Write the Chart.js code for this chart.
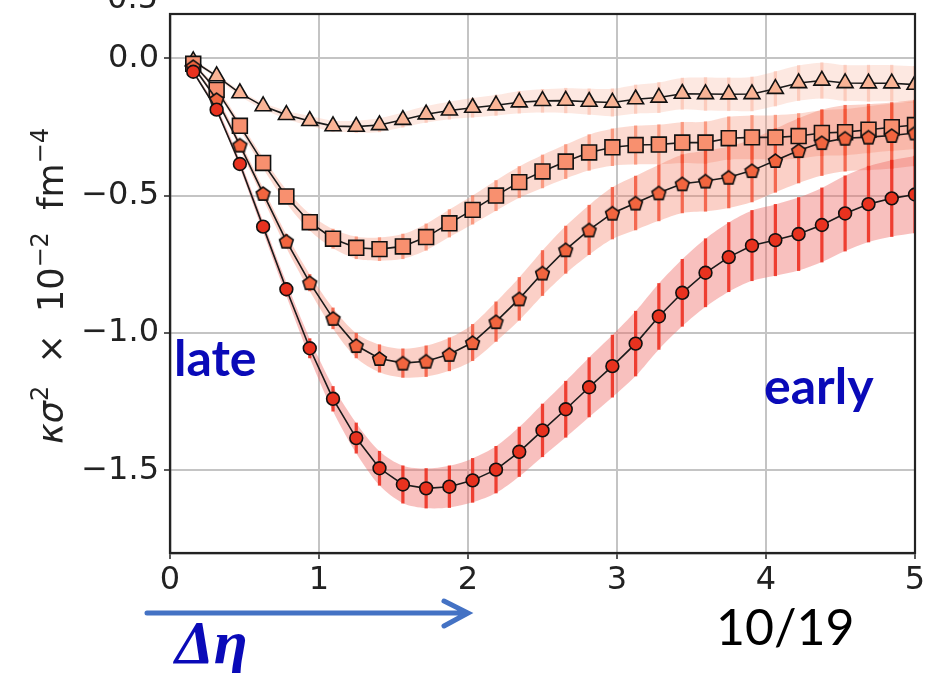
<!DOCTYPE html>
<html>
<head>
<meta charset="utf-8">
<script src="https://cdn.jsdelivr.net/npm/chart.js@4.4.1/dist/chart.umd.min.js"></script>
<style>
  html, body { margin: 0; padding: 0; background: #fff; }
  #wrap { width: 945px; height: 673px; position: relative; }
</style>
</head>
<body>
<div id="wrap"><canvas id="chart" width="945" height="673"></canvas></div>
<script>
// delta eta values (x)
const etaVals = [0.156, 0.313, 0.469, 0.625, 0.781, 0.938, 1.094, 1.25, 1.406, 1.563, 1.719, 1.875,
  2.031, 2.188, 2.344, 2.5, 2.656, 2.813, 2.969, 3.125, 3.281, 3.438, 3.594, 3.75,
  3.906, 4.063, 4.219, 4.375, 4.531, 4.688, 4.844, 5.0];

// triangles
const triVals = [-0.01, -0.065, -0.127, -0.174, -0.206, -0.228, -0.247, -0.249, -0.243, -0.224, -0.204, -0.19,
  -0.18, -0.171, -0.16, -0.155, -0.154, -0.158, -0.161, -0.149, -0.143, -0.129, -0.13, -0.131,
  -0.13, -0.111, -0.09, -0.081, -0.09, -0.091, -0.091, -0.096];
const triErr = [0.005, 0.008, 0.01, 0.012, 0.015, 0.018, 0.02, 0.022, 0.025, 0.027, 0.03, 0.032,
  0.035, 0.037, 0.04, 0.042, 0.045, 0.047, 0.05, 0.052, 0.055, 0.057, 0.06, 0.06,
  0.062, 0.063, 0.064, 0.065, 0.065, 0.066, 0.066, 0.067];

// squares
const sqVals = [-0.02, -0.115, -0.246, -0.381, -0.503, -0.597, -0.657, -0.69, -0.695, -0.685, -0.651, -0.601,
  -0.552, -0.5, -0.451, -0.412, -0.376, -0.343, -0.324, -0.316, -0.314, -0.307, -0.307, -0.291,
  -0.288, -0.288, -0.283, -0.272, -0.269, -0.26, -0.251, -0.243];
const sqErr = [0.005, 0.01, 0.015, 0.02, 0.025, 0.03, 0.035, 0.04, 0.042, 0.045, 0.048, 0.05,
  0.052, 0.055, 0.057, 0.06, 0.062, 0.065, 0.067, 0.07, 0.072, 0.074, 0.076, 0.078,
  0.08, 0.081, 0.082, 0.083, 0.084, 0.085, 0.086, 0.087];

// pentagons
const pentVals = [-0.03, -0.15, -0.316, -0.492, -0.666, -0.817, -0.947, -1.046, -1.093, -1.11, -1.103, -1.078,
  -1.035, -0.959, -0.876, -0.782, -0.697, -0.625, -0.564, -0.527, -0.49, -0.457, -0.447, -0.433,
  -0.409, -0.372, -0.336, -0.307, -0.291, -0.287, -0.281, -0.272];
const pentErr = [0.005, 0.01, 0.015, 0.02, 0.025, 0.03, 0.038, 0.045, 0.05, 0.052, 0.056, 0.06,
  0.066, 0.072, 0.078, 0.082, 0.086, 0.09, 0.094, 0.098, 0.102, 0.106, 0.11, 0.112,
  0.114, 0.116, 0.118, 0.12, 0.12, 0.12, 0.12, 0.12];

// circles
const circVals = [-0.049, -0.187, -0.385, -0.613, -0.841, -1.056, -1.24, -1.383, -1.493, -1.552, -1.566, -1.56,
  -1.537, -1.498, -1.433, -1.355, -1.278, -1.198, -1.121, -1.039, -0.94, -0.854, -0.781, -0.724,
  -0.682, -0.662, -0.64, -0.607, -0.565, -0.531, -0.51, -0.496];
const circErr = [0.005, 0.01, 0.015, 0.02, 0.025, 0.035, 0.045, 0.055, 0.062, 0.068, 0.072, 0.076,
  0.08, 0.085, 0.09, 0.096, 0.102, 0.108, 0.113, 0.118, 0.12, 0.122, 0.124, 0.126,
  0.128, 0.13, 0.133, 0.135, 0.137, 0.138, 0.139, 0.14];

const xTicks = [0, 1, 2, 3, 4, 5];
const yTicks = [0, -0.5, -1.0, -1.5];
const yTickLabels = ['0.0', '\u22120.5', '\u22121.0', '\u22121.5'];

// pentagon marker
function pentagon(size, fill) {
  const c = document.createElement('canvas');
  c.width = size; c.height = size;
  const g = c.getContext('2d');
  const r = size / 2 - 1.3;
  g.beginPath();
  for (let i = 0; i < 5; i++) {
    const a = -Math.PI / 2 + i * 2 * Math.PI / 5;
    const px = size / 2 + r * Math.cos(a), py = size / 2 + 0.8 + r * Math.sin(a);
    if (i === 0) g.moveTo(px, py); else g.lineTo(px, py);
  }
  g.closePath();
  g.fillStyle = fill; g.fill();
  g.lineWidth = 1.6; g.strokeStyle = '#111'; g.stroke();
  return c;
}

const series = [
  { vals: circVals, err: circErr, band: 'rgba(238,105,100,0.42)', bar: 'rgba(236,40,25,0.85)', fill: '#e8321f', style: 'circle', r: 6.4 },
  { vals: pentVals, err: pentErr, band: 'rgba(245,125,100,0.36)', bar: 'rgba(242,70,40,0.75)', fill: '#f2653f', style: pentagon(17, '#f2653f'), r: 8 },
  { vals: sqVals, err: sqErr, band: 'rgba(246,140,112,0.32)', bar: 'rgba(248,110,75,0.6)', fill: '#f8906f', style: 'rect', r: 10.5 },
  { vals: triVals, err: triErr, band: 'rgba(248,150,120,0.22)', bar: 'rgba(250,150,120,0.35)', fill: '#f9b496', style: 'triangle', r: 9.2 }
];

const datasets = [];
series.forEach((s, i) => {
  datasets.push({
    type: 'line', data: etaVals.map((x, j) => ({ x, y: s.vals[j] + s.err[j] })),
    borderWidth: 0, pointRadius: 0, fill: false, tension: 0.3, order: 30 + i
  });
  datasets.push({
    type: 'line', data: etaVals.map((x, j) => ({ x, y: s.vals[j] - s.err[j] })),
    borderWidth: 0, pointRadius: 0, fill: '-1', backgroundColor: s.band, tension: 0.3, order: 30 + i
  });
});
series.forEach((s, i) => {
  datasets.push({
    type: 'bar', data: etaVals.map((x, j) => ({ x, y: [s.vals[j] - s.err[j], s.vals[j] + s.err[j]] })),
    backgroundColor: s.bar, borderWidth: 0, barThickness: 2.6, grouped: false, order: 10 + i
  });
});
series.forEach((s, i) => {
  datasets.push({
    type: 'line', data: etaVals.map((x, j) => ({ x, y: s.vals[j] })),
    borderColor: '#1a1a1a', borderWidth: 1.6, fill: false,
    pointStyle: s.style, pointRadius: s.r, pointBackgroundColor: s.fill,
    pointBorderColor: '#111', pointBorderWidth: 1.6, order: i
  });
});

const decor = {
  id: 'decor',
  afterDraw(chart) {
    const { ctx, chartArea: a } = chart;
    ctx.save();
    // frame
    ctx.strokeStyle = '#222';
    ctx.lineWidth = 2.2;
    ctx.strokeRect(a.left, a.top, a.right - a.left, a.bottom - a.top);

    // cut label from the panel above
    ctx.fillStyle = '#222';
    ctx.font = '32px "DejaVu Sans"';
    ctx.textAlign = 'right';
    ctx.textBaseline = 'alphabetic';
    ctx.fillText('0.5', 158, 8);

    // y title
    ctx.save();
    ctx.translate(63, 286);
    ctx.rotate(-Math.PI / 2);
    const parts = [
      ['\u03ba\u03c3', 'italic 35px "DejaVu Sans"', 0],
      ['2', '24px "DejaVu Sans"', -15],
      ['  \u00d7  10', '35px "DejaVu Sans"', 0],
      ['\u22122', '24px "DejaVu Sans"', -15],
      ['  fm', '35px "DejaVu Sans"', 0],
      ['\u22124', '24px "DejaVu Sans"', -15]
    ];
    let total = 0;
    parts.forEach(p => { ctx.font = p[1]; total += ctx.measureText(p[0]).width; });
    let cx = -total / 2;
    ctx.textAlign = 'left';
    parts.forEach(p => {
      ctx.font = p[1];
      ctx.fillText(p[0], cx, p[2]);
      cx += ctx.measureText(p[0]).width;
    });
    ctx.restore();

    // annotations
    ctx.textAlign = 'left';
    ctx.fillStyle = '#0a0ab8';
    ctx.font = 'bold 50px Lato';
    ctx.fillText('late', 174, 376);
    ctx.fillText('early', 764, 404);
    ctx.font = 'bold italic 62px "Liberation Serif"';
    ctx.fillText('\u0394\u03b7', 175, 663);

    // arrow
    ctx.strokeStyle = '#4472c4';
    ctx.lineWidth = 5;
    ctx.lineCap = 'round';
    ctx.beginPath();
    ctx.moveTo(147, 613); ctx.lineTo(466, 613);
    ctx.moveTo(444, 601); ctx.lineTo(468, 613); ctx.lineTo(444, 626);
    ctx.stroke();

    ctx.fillStyle = '#000';
    ctx.font = '50px Lato';
    ctx.fillText('10/19', 716, 645);
    ctx.restore();
  }
};

new Chart(document.getElementById('chart'), {
  type: 'line',
  data: { datasets },
  options: {
    responsive: false,
    animation: false,
    layout: { padding: { left: 0, top: 14, right: 30, bottom: 60 } },
    plugins: { legend: { display: false }, tooltip: { enabled: false } },
    scales: {
      x: {
        type: 'linear', min: 0, max: 5, offset: false,
        afterBuildTicks: s => { s.ticks = xTicks.map(v => ({ value: v })); },
        afterFit: s => { s.height = 60; s.paddingLeft = 0; s.paddingRight = 0; },
        ticks: { color: '#222', font: { family: 'DejaVu Sans', size: 32 }, padding: 2, maxRotation: 0,
          callback: v => String(v) },
        grid: { offset: false, color: '#c4c4c4', lineWidth: 2, tickLength: 6, tickColor: '#222', tickWidth: 1.5 },
        border: { color: '#222', width: 2.2 }
      },
      y: {
        type: 'linear', min: -1.8015, max: 0.1613,
        afterBuildTicks: s => { s.ticks = yTicks.map(v => ({ value: v })); },
        afterFit: s => { s.width = 170; s.paddingTop = 0; s.paddingBottom = 0; },
        ticks: { color: '#222', font: { family: 'DejaVu Sans', size: 32 }, padding: 5,
          callback: v => yTickLabels[yTicks.indexOf(v)] },
        grid: { offset: false, color: '#c4c4c4', lineWidth: 2, tickLength: 6, tickColor: '#222', tickWidth: 1.5 },
        border: { color: '#222', width: 2.2 }
      }
    }
  },
  plugins: [decor]
});
</script>
</body>
</html>
